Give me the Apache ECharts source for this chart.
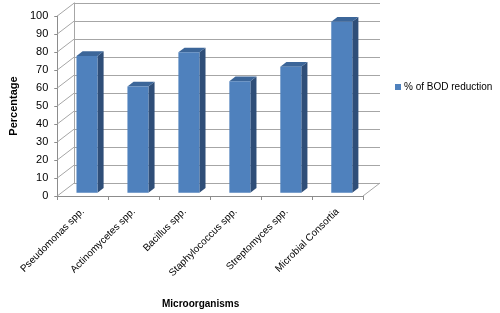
<!DOCTYPE html>
<html>
<head>
<meta charset="utf-8">
<script src="https://cdn.jsdelivr.net/npm/echarts@6/dist/echarts.min.js"></script>
<style>
  html, body { margin: 0; padding: 0; background: #fff; }
  #main { width: 500px; height: 313px; }
</style>
</head>
<body>
<div id="main"></div>
<script>
var categories = ['Pseudomonas spp.', 'Actinomycetes spp.', 'Bacillus spp.', 'Staphylococcus spp.', 'Streptomyces spp.', 'Microbial Consortia'];
var bodReduction = [76, 59, 78, 62, 70, 95];
var yTicks = [0, 10, 20, 30, 40, 50, 60, 70, 80, 90, 100];

// depth of the fake 3d box (back wall offset from front plane)
var DX = 17, DY = -13;
var FRONT = '#4f81bd', SIDE = '#2f4e78', TOP = '#3c6699';
var GRID_LINE = '#a6a6a6';
var FONT = 'Liberation Sans';

var myChart = echarts.init(document.getElementById('main'));

function renderWalls(params, api) {
  var cs = params.coordSys;
  var p = api.coord([0, api.value(0)]);
  var x = cs.x;
  var kids = [{
    type: 'line',
    shape: {x1: x, y1: p[1], x2: x + DX, y2: p[1] + DY},
    style: {stroke: GRID_LINE, lineWidth: 1}
  }];
  if (api.value(0) === 0) {
    kids.push({
      type: 'line',
      shape: {x1: cs.x + cs.width, y1: p[1], x2: cs.x + cs.width + DX, y2: p[1] + DY},
      style: {stroke: GRID_LINE, lineWidth: 1}
    });
  }
  return {type: 'group', children: kids};
}

function renderBar(params, api) {
  var i = api.value(0), v = api.value(1);
  var base = api.coord([i, 0]), top = api.coord([i, v]);
  var w = 21;
  var ox = DX * 0.25, oy = DY * 0.25, dx = DX * 0.36, dy = DY * 0.36;
  var x0 = base[0] - w / 2 + ox, x1 = x0 + w;
  var yb = base[1] + oy, yt = top[1] + oy;
  return {
    type: 'group',
    children: [
      {type: 'polygon', shape: {points: [[x1, yb], [x1, yt], [x1 + dx, yt + dy], [x1 + dx, yb + dy]]}, style: {fill: SIDE}},
      {type: 'polygon', shape: {points: [[x0, yt], [x1, yt], [x1 + dx, yt + dy], [x0 + dx, yt + dy]]}, style: {fill: TOP}},
      {type: 'rect', shape: {x: x0, y: yt, width: w, height: yb - yt}, style: {fill: FRONT}}
    ]
  };
}

option = {
  animation: false,
  textStyle: {fontFamily: FONT},
  legend: {
    data: ['% of BOD reduction'],
    left: 395,
    top: 82,
    padding: 0,
    icon: 'rect',
    itemWidth: 6,
    itemHeight: 6,
    itemGap: 4,
    textStyle: {fontFamily: FONT, fontSize: 10, color: '#000', padding: [0, 0, 0, -2]}
  },
  grid: [
    {left: 57, right: 137, top: 16, bottom: 117},
    {left: 57 + DX, right: 137 - DX, top: 16 + DY, bottom: 117 - DY}
  ],
  xAxis: [
    {
      type: 'category',
      gridIndex: 0,
      data: categories,
      axisLine: {lineStyle: {color: '#8c8c8c'}},
      axisTick: {show: true, length: 4, lineStyle: {color: '#8c8c8c'}},
      axisLabel: {rotate: 45, fontSize: 10, color: '#000', margin: 14, interval: 0}
    },
    {
      type: 'category',
      gridIndex: 1,
      data: categories,
      show: false
    }
  ],
  yAxis: [
    {
      type: 'value',
      gridIndex: 0,
      min: 0,
      max: 100,
      interval: 10,
      name: 'Percentage',
      nameLocation: 'middle',
      nameGap: 37,
      nameTextStyle: {fontFamily: FONT, fontSize: 11, fontWeight: 'bold', color: '#000'},
      axisLine: {show: true, lineStyle: {color: '#8c8c8c'}},
      axisTick: {show: true, length: 3, lineStyle: {color: '#8c8c8c'}},
      axisLabel: {fontSize: 11, color: '#000', margin: 9},
      splitLine: {show: false}
    },
    {
      type: 'value',
      gridIndex: 1,
      min: 0,
      max: 100,
      interval: 10,
      axisLine: {show: true, lineStyle: {color: GRID_LINE}},
      axisTick: {show: false},
      axisLabel: {show: false},
      splitLine: {show: true, lineStyle: {color: GRID_LINE, width: 1}}
    }
  ],
  graphic: [{
    type: 'text',
    left: 162,
    top: 299,
    style: {text: 'Microorganisms', font: 'bold 10px "Liberation Sans"', fill: '#000'}
  }],
  series: [
    {
      name: 'walls',
      type: 'custom',
      xAxisIndex: 0,
      yAxisIndex: 0,
      data: yTicks.map(function (t) { return [t]; }),
      encode: {y: 0},
      renderItem: renderWalls,
      silent: true,
      clip: false,
      z: 1
    },
    {
      name: '% of BOD reduction',
      type: 'custom',
      xAxisIndex: 0,
      yAxisIndex: 0,
      itemStyle: {color: FRONT},
      data: bodReduction.map(function (v, i) { return [i, v]; }),
      encode: {x: 0, y: 1},
      renderItem: renderBar,
      clip: false,
      z: 3
    }
  ]
};
myChart.setOption(option);
</script>
</body>
</html>
